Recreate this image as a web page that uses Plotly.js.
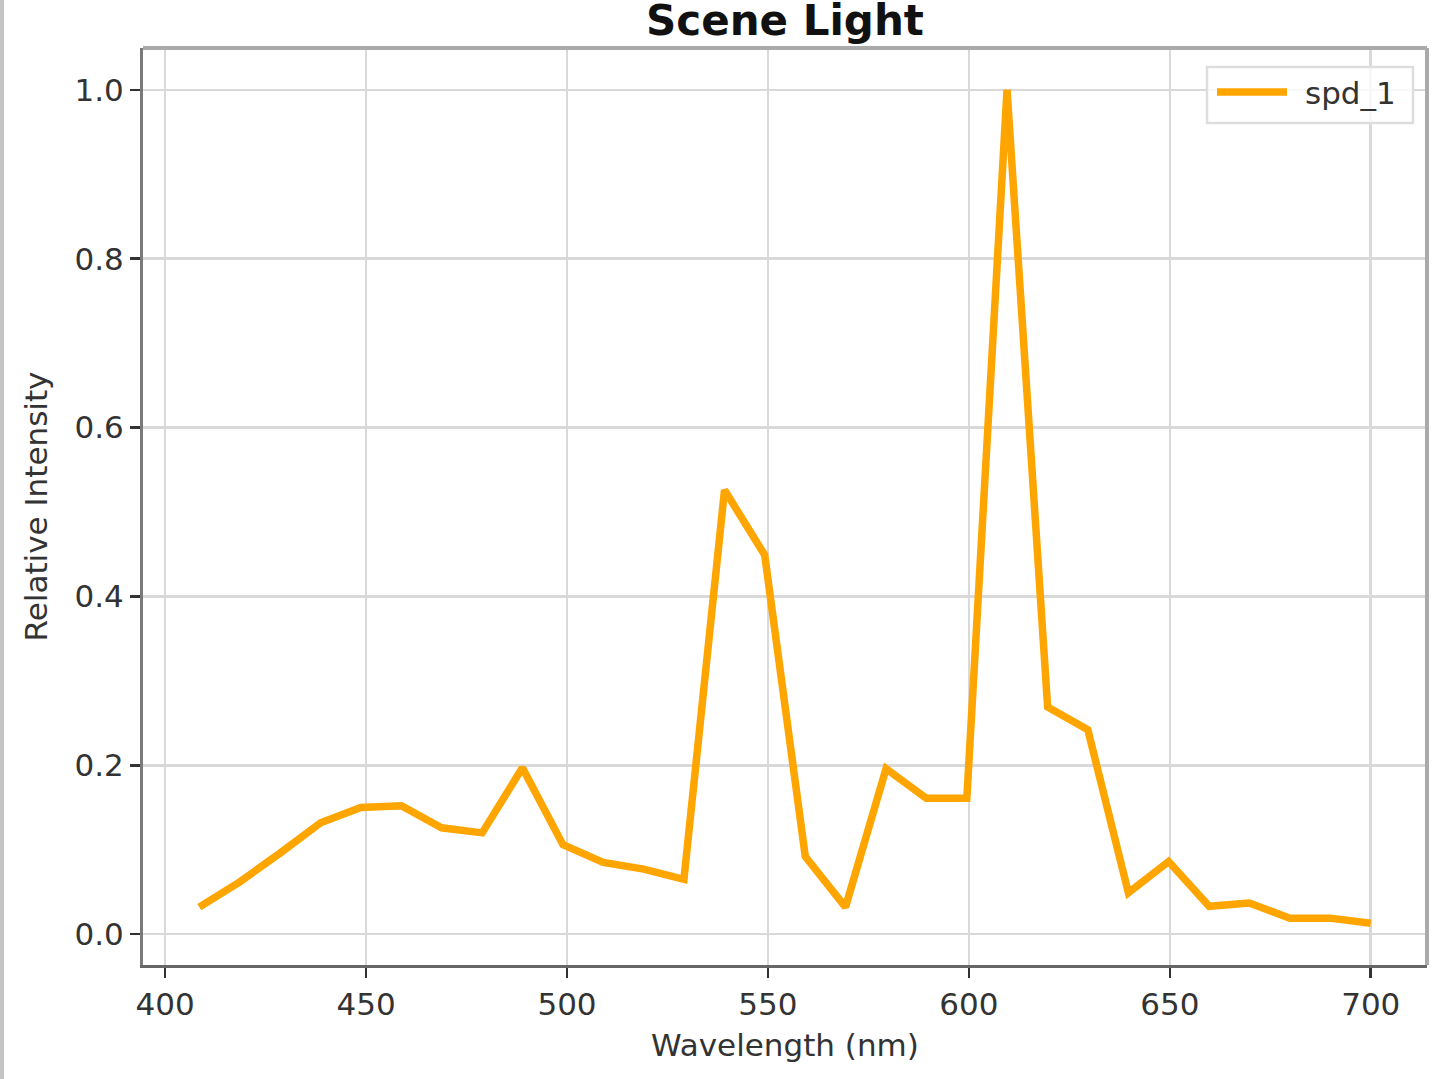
<!DOCTYPE html>
<html>
<head>
<meta charset="utf-8">
<script src="https://cdn.plot.ly/plotly-3.0.1.min.js"></script>
<style>html,body{margin:0;padding:0;background:#fff;}#chart{width:1435px;height:1079px;}</style>
</head>
<body>
<div id="chart"></div>
<script>
const wavelengths = [408.5,418.6,428.6,438.7,448.7,458.8,468.8,478.9,488.9,499.0,509.0,519.1,529.1,539.2,549.2,559.3,569.3,579.4,589.4,599.5,609.5,619.6,629.6,639.7,649.7,659.8,669.8,679.9,689.9,700.0];
const intensity = [0.032,0.062,0.096,0.132,0.150,0.152,0.126,0.120,0.197,0.106,0.085,0.077,0.065,0.526,0.449,0.092,0.032,0.196,0.161,0.161,1.0,0.269,0.242,0.049,0.086,0.033,0.037,0.019,0.019,0.013];
const seriesName = 'spd_1';
const xTicks = [400,450,500,550,600,650,700];
const yTicks = [0.0,0.2,0.4,0.6,0.8,1.0];

const font = 'DejaVu Sans, sans-serif';
const lineColor = '#FFA500';
const trace = {
  x: wavelengths, y: intensity, type: 'scatter', mode: 'lines', name: seriesName,
  line: {color: lineColor, width: 7.5}, showlegend: false
};
const axisCommon = {
  showline: true, mirror: false, linewidth: 3,
  showgrid: true, gridcolor: '#d9d9d9', gridwidth: 2.5,
  zeroline: false, ticks: 'outside', ticklen: 10, tickwidth: 2.5, tickcolor: '#333',
  tickfont: {family: font, size: 31, color: '#333'}
};
// plot area in pixels: x 143..1427, y 48..965
const px = v => (v - 143) / 1284;
const py = v => (965 - v) / 917;
const layout = {
  width: 1435, height: 1079,
  margin: {l: 143, r: 8, t: 48, b: 114},
  paper_bgcolor: '#fff', plot_bgcolor: '#fff',
  title: {text: '<b>Scene Light</b>', font: {family: font, size: 42, color: '#111'}, x: 0.547, xanchor: 'center', y: 0.981, yref: 'container', yanchor: 'middle'},
  xaxis: Object.assign({}, axisCommon, {
    linecolor: '#666',
    range: [394.5, 714.0], tickmode: 'array', tickvals: xTicks, ticktext: xTicks.map(String),
    title: {text: 'Wavelength (nm)', font: {family: font, size: 31, color: '#333'}, standoff: 14}
  }),
  yaxis: Object.assign({}, axisCommon, {
    linecolor: '#7a7a7a',
    range: [-0.0365, 1.0495], tickmode: 'array', tickvals: yTicks, ticktext: yTicks.map(v => v.toFixed(1)),
    title: {text: 'Relative Intensity', font: {family: font, size: 31, color: '#333'}, standoff: 18}
  }),
  showlegend: false,
  shapes: [
    {type: 'rect', xref: 'paper', yref: 'paper', x0: px(0), x1: px(4), y0: py(1079), y1: py(0), line: {width: 0}, fillcolor: '#c4c4c4'},
    {type: 'line', xref: 'paper', yref: 'paper', x0: 0, x1: 1, y0: 1, y1: 1, line: {color: '#aaaaaa', width: 4}},
    {type: 'line', xref: 'paper', yref: 'paper', x0: 1, x1: 1, y0: 0, y1: 1, line: {color: '#aaaaaa', width: 4}},
    {type: 'rect', xref: 'paper', yref: 'paper', x0: px(1207), x1: px(1413), y0: py(123), y1: py(67), line: {color: '#dddddd', width: 2.5}, fillcolor: 'rgba(255,255,255,0.8)'},
    {type: 'line', xref: 'paper', yref: 'paper', x0: px(1217), x1: px(1287), y0: py(92), y1: py(92), line: {color: lineColor, width: 7.5}}
  ],
  annotations: [
    {text: seriesName, xref: 'paper', yref: 'paper', x: px(1303), y: py(93), xanchor: 'left', yanchor: 'middle', showarrow: false, font: {family: font, size: 31, color: '#333'}}
  ]
};
Plotly.newPlot('chart', [trace], layout, {staticPlot: true, displayModeBar: false});
</script>
</body>
</html>
